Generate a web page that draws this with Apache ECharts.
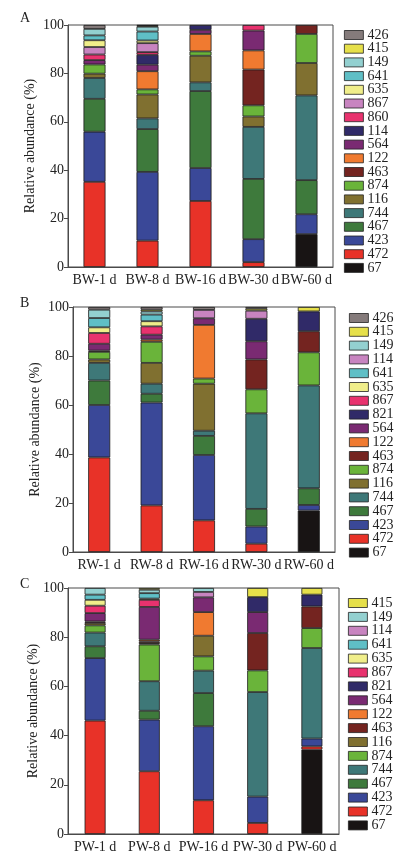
<!DOCTYPE html>
<html>
<head>
<meta charset="utf-8">
<script src="https://cdn.jsdelivr.net/npm/echarts@6/dist/echarts.min.js"></script>
<style>
  html, body { margin: 0; padding: 0; background: #fff; }
  .panel { width: 396px; }
</style>
</head>
<body>
<div id="chartA" class="panel" style="height:287px"></div>
<div id="chartB" class="panel" style="height:285px"></div>
<div id="chartC" class="panel" style="height:287px"></div>
<script>
// categories
const catsA = ['BW-1 d', 'BW-8 d', 'BW-16 d', 'BW-30 d', 'BW-60 d'];
const catsB = ['RW-1 d', 'RW-8 d', 'RW-16 d', 'RW-30 d', 'RW-60 d'];
const catsC = ['PW-1 d', 'PW-8 d', 'PW-16 d', 'PW-30 d', 'PW-60 d'];
const yTicks = [0, 20, 40, 60, 80, 100];

// panel A (BW), relative abundance %
const bw67 = [0, 0, 0, 0, 13.6];
const bw472 = [35.2, 10.9, 27.3, 2.0, 0];
const bw423 = [20.7, 28.4, 13.6, 9.5, 8.2];
const bw467 = [13.6, 17.7, 31.8, 24.9, 14.1];
const bw744 = [8.6, 4.4, 3.6, 21.5, 35.0];
const bw116 = [1.8, 9.9, 11.0, 4.3, 13.4];
const bw874 = [3.8, 2.1, 1.8, 4.6, 12.0];
const bw463 = [0, 0, 0, 14.8, 3.7];
const bw122 = [0, 7.5, 7.2, 7.9, 0];
const bw564 = [1.8, 2.7, 1.7, 8.2, 0];
const bw114 = [0, 4.1, 2.0, 0, 0];
const bw860 = [2.3, 1.1, 0, 2.3, 0];
const bw867 = [3.1, 3.7, 0, 0, 0];
const bw635 = [2.8, 1.1, 0, 0, 0];
const bw641 = [2.0, 3.7, 0, 0, 0];
const bw149 = [2.7, 2.0, 0, 0, 0];
const bw415 = [0, 0.4, 0, 0, 0];
const bw426 = [1.6, 0.3, 0, 0, 0];

// panel B (RW)
const rw67 = [0, 0, 0, 0, 16.9];
const rw472 = [38.6, 19.0, 12.9, 3.4, 0];
const rw423 = [21.4, 42.0, 26.7, 7.0, 2.3];
const rw467 = [10.0, 3.6, 7.8, 7.2, 6.8];
const rw744 = [7.2, 4.1, 2.1, 39.0, 42.0];
const rw116 = [1.4, 8.5, 19.2, 0, 0];
const rw874 = [3.1, 8.6, 2.1, 9.8, 13.5];
const rw463 = [0.5, 0, 0, 12.2, 8.6];
const rw122 = [0, 0.9, 21.9, 0, 0];
const rw564 = [2.8, 2.0, 2.7, 7.4, 0];
const rw821 = [0, 0, 0, 9.2, 8.1];
const rw867 = [4.4, 3.4, 0, 0, 0];
const rw635 = [2.3, 2.1, 0, 0, 0];
const rw641 = [3.8, 2.7, 0, 0, 0];
const rw114 = [0, 0, 3.4, 3.3, 0];
const rw149 = [3.4, 1.3, 0, 0, 0];
const rw415 = [0, 0.7, 0, 0.8, 1.8];
const rw426 = [1.1, 1.1, 1.2, 0.7, 0];

// panel C (PW)
const pw67 = [0, 0, 0, 0, 34.3];
const pw472 = [46.1, 25.5, 13.7, 4.5, 1.3];
const pw423 = [25.4, 21.0, 30.1, 10.7, 3.2];
const pw467 = [4.8, 3.6, 13.5, 0, 0];
const pw744 = [5.6, 12.0, 9.1, 42.5, 36.8];
const pw874 = [2.9, 14.9, 5.8, 8.8, 8.1];
const pw116 = [1.0, 0.6, 8.4, 0, 0];
const pw463 = [0.6, 0.7, 0, 15.2, 8.8];
const pw122 = [0, 0.7, 9.6, 0, 0];
const pw564 = [3.4, 13.3, 6.0, 8.5, 0];
const pw821 = [0, 0, 0, 6.1, 4.8];
const pw867 = [3.0, 2.9, 0, 0, 0];
const pw635 = [2.4, 0.5, 0, 0, 0];
const pw641 = [2.1, 2.2, 0, 0, 0];
const pw114 = [0, 0, 2.2, 0, 0];
const pw149 = [2.7, 1.4, 1.6, 0, 0];
const pw415 = [0, 0.7, 0, 3.7, 2.7];

// legend order, top to bottom
const legendA = ['426', '415', '149', '641', '635', '867', '860', '114', '564', '122', '463', '874', '116', '744', '467', '423', '472', '67'];
const legendB = ['426', '415', '149', '114', '641', '635', '867', '821', '564', '122', '463', '874', '116', '744', '467', '423', '472', '67'];
const legendC = ['415', '149', '114', '641', '635', '867', '821', '564', '122', '463', '116', '874', '744', '467', '423', '472', '67'];

const FONT = '"Liberation Serif", "DejaVu Serif", serif';
const AXIS = '#4a4a4a';

const baseColors = {
  '426': '#857b7b', '415': '#e6e04a', '149': '#93d0d0', '641': '#5fbfc6',
  '635': '#f0ee8a', '564': '#7a2a72', '122': '#f07a30', '463': '#742420',
  '874': '#6ab43a', '116': '#807030', '744': '#3e7878', '467': '#3e7a3c',
  '423': '#3a4898', '472': '#e83228', '67': '#181414'
};
// A uses different colours for 114/860/867
const colorsA = Object.assign({}, baseColors, { '114': '#302a68', '860': '#e8326e', '867': '#c884c0' });
const colorsBC = Object.assign({}, baseColors, { '821': '#302a68', '867': '#e8326e', '114': '#c884c0' });

/*一个面板*/
function drawPanel(el, letter, cats, stack, legendOrder, colors, lay) {
  const chart = echarts.init(document.getElementById(el));
  const series = stack.map(([name, vals]) => ({
    name: name,
    type: 'bar',
    stack: 'total',
    barWidth: lay.barW,
    itemStyle: { color: colors[name], borderColor: '#1c1c1c', borderWidth: 0.8 },
    emphasis: { disabled: true },
    data: vals.map(v => (v === 0 ? '-' : v)),
  }));
  chart.setOption({
    animation: false,
    textStyle: { fontFamily: FONT },
    title: {
      text: letter,
      left: 15,
      top: lay.letterTop,
      textStyle: { fontFamily: FONT, fontSize: 14, fontWeight: 'normal', color: '#222' },
    },
    grid: {
      left: lay.left, top: lay.top, width: lay.width, height: lay.height,
      show: true, borderColor: AXIS, borderWidth: 1, backgroundColor: 'transparent',
    },
    legend: {
      orient: 'vertical',
      left: lay.legendLeft,
      top: lay.legendTop,
      itemWidth: 19,
      itemHeight: 9,
      itemGap: lay.legendGap,
      icon: 'rect',
      selectedMode: false,
      itemStyle: { borderColor: '#222', borderWidth: 0.8 },
      textStyle: { fontFamily: FONT, fontSize: 14, color: '#222', padding: [0, 0, 0, -1] },
      data: legendOrder,
    },
    xAxis: {
      type: 'category',
      data: cats,
      axisLine: { lineStyle: { color: AXIS } },
      axisTick: { show: false },
      axisLabel: { color: '#222', fontFamily: FONT, fontSize: 14, margin: 6, interval: 0 },
    },
    yAxis: {
      type: 'value',
      min: yTicks[0],
      max: yTicks[yTicks.length - 1],
      interval: yTicks[1] - yTicks[0],
      name: 'Relative abundance (%)',
      nameLocation: 'middle',
      nameGap: lay.nameGap,
      nameMoveOverlap: false,
      nameTextStyle: { fontFamily: FONT, fontSize: 14, color: '#222' },
      axisLine: { show: true, lineStyle: { color: AXIS } },
      axisTick: { show: true, length: 4, lineStyle: { color: AXIS } },
      axisLabel: { color: '#222', fontFamily: FONT, fontSize: 14, margin: 4 },
      splitLine: { show: false },
    },
    series: series,
  });
}

drawPanel('chartA', 'A', catsA, [
  ['67', bw67], ['472', bw472], ['423', bw423], ['467', bw467], ['744', bw744],
  ['116', bw116], ['874', bw874], ['463', bw463], ['122', bw122], ['564', bw564],
  ['114', bw114], ['860', bw860], ['867', bw867], ['635', bw635], ['641', bw641],
  ['149', bw149], ['415', bw415], ['426', bw426],
], legendA, colorsA, {
  left: 68, top: 25, width: 265, height: 244, barW: 22, letterTop: 6,
  legendLeft: 339, legendTop: 23, legendGap: -0.3, nameGap: 31,
});

drawPanel('chartB', 'B', catsB, [
  ['67', rw67], ['472', rw472], ['423', rw423], ['467', rw467], ['744', rw744],
  ['116', rw116], ['874', rw874], ['463', rw463], ['122', rw122], ['564', rw564],
  ['821', rw821], ['867', rw867], ['635', rw635], ['641', rw641], ['114', rw114],
  ['149', rw149], ['415', rw415], ['426', rw426],
], legendB, colorsBC, {
  left: 73, top: 20, width: 262, height: 246, barW: 22, letterTop: 4,
  legendLeft: 344, legendTop: 19, legendGap: -0.2, nameGap: 31,
});

drawPanel('chartC', 'C', catsC, [
  ['67', pw67], ['472', pw472], ['423', pw423], ['467', pw467], ['744', pw744],
  ['874', pw874], ['116', pw116], ['463', pw463], ['122', pw122], ['564', pw564],
  ['821', pw821], ['867', pw867], ['635', pw635], ['641', pw641], ['114', pw114],
  ['149', pw149], ['415', pw415],
], legendC, colorsBC, {
  left: 68, top: 16, width: 271, height: 246, barW: 21, letterTop: 0,
  legendLeft: 343, legendTop: 19, legendGap: -0.1, nameGap: 28,
});
</script>
</body>
</html>
